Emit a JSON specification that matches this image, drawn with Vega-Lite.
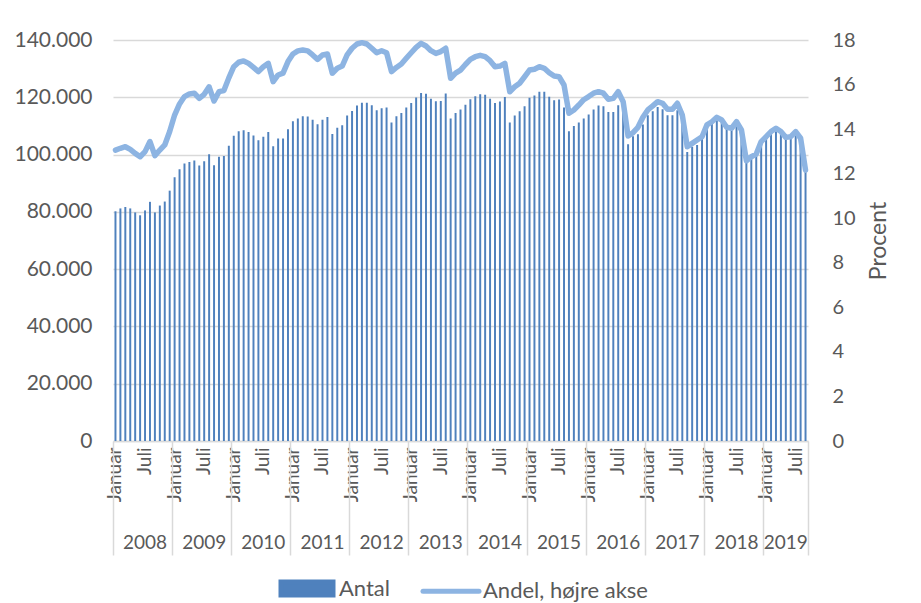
{
  "$schema": "https://vega.github.io/schema/vega-lite/v6.json",
  "width": 695,
  "height": 401,
  "autosize": {"type": "none"},
  "padding": {"left": 113, "top": 40, "right": 113, "bottom": 162},
  "background": "white",
  "config": {
    "view": {"stroke": null},
    "font": "Lato",
    "axis": {"labelFont": "Lato", "labelColor": "#595959", "labelFontSize": 19, "titleFont": "Lato", "titleColor": "#595959", "titleFontWeight": "normal"},
    "legend": {"labelFont": "Lato", "labelColor": "#595959", "labelFontSize": 22, "labelLimit": 400}
  },
  "data": {"values": [
    {"m":"2008-01","antal":80200,"andel":13.06},{"m":"2008-02","antal":81200,"andel":13.14},{"m":"2008-03","antal":81700,"andel":13.21},{"m":"2008-04","antal":81200,"andel":13.09},{"m":"2008-05","antal":79800,"andel":12.91},{"m":"2008-06","antal":78800,"andel":12.76},{"m":"2008-07","antal":80500,"andel":12.99},{"m":"2008-08","antal":83500,"andel":13.44},{"m":"2008-09","antal":79800,"andel":12.81},{"m":"2008-10","antal":82200,"andel":13.06},{"m":"2008-11","antal":83600,"andel":13.29},{"m":"2008-12","antal":87400,"andel":13.89},
    {"m":"2009-01","antal":92100,"andel":14.63},{"m":"2009-02","antal":94900,"andel":15.13},{"m":"2009-03","antal":96900,"andel":15.46},{"m":"2009-04","antal":97400,"andel":15.58},{"m":"2009-05","antal":97900,"andel":15.61},{"m":"2009-06","antal":96200,"andel":15.38},{"m":"2009-07","antal":97700,"andel":15.56},{"m":"2009-08","antal":100100,"andel":15.9},{"m":"2009-09","antal":96300,"andel":15.26},{"m":"2009-10","antal":99200,"andel":15.68},{"m":"2009-11","antal":99500,"andel":15.73},{"m":"2009-12","antal":103100,"andel":16.3},
    {"m":"2010-01","antal":106600,"andel":16.8},{"m":"2010-02","antal":108100,"andel":17.0},{"m":"2010-03","antal":108500,"andel":17.06},{"m":"2010-04","antal":107900,"andel":16.95},{"m":"2010-05","antal":106700,"andel":16.77},{"m":"2010-06","antal":105000,"andel":16.58},{"m":"2010-07","antal":106200,"andel":16.8},{"m":"2010-08","antal":107900,"andel":16.95},{"m":"2010-09","antal":102900,"andel":16.13},{"m":"2010-10","antal":105600,"andel":16.43},{"m":"2010-11","antal":105600,"andel":16.51},{"m":"2010-12","antal":108800,"andel":17.03},
    {"m":"2011-01","antal":111600,"andel":17.37},{"m":"2011-02","antal":112600,"andel":17.51},{"m":"2011-03","antal":113400,"andel":17.55},{"m":"2011-04","antal":113300,"andel":17.51},{"m":"2011-05","antal":112200,"andel":17.33},{"m":"2011-06","antal":110600,"andel":17.13},{"m":"2011-07","antal":112200,"andel":17.33},{"m":"2011-08","antal":113100,"andel":17.37},{"m":"2011-09","antal":107200,"andel":16.51},{"m":"2011-10","antal":109400,"andel":16.73},{"m":"2011-11","antal":110200,"andel":16.83},{"m":"2011-12","antal":113600,"andel":17.33},
    {"m":"2012-01","antal":115200,"andel":17.63},{"m":"2012-02","antal":117100,"andel":17.82},{"m":"2012-03","antal":118100,"andel":17.88},{"m":"2012-04","antal":118100,"andel":17.82},{"m":"2012-05","antal":117200,"andel":17.63},{"m":"2012-06","antal":115500,"andel":17.43},{"m":"2012-07","antal":116200,"andel":17.52},{"m":"2012-08","antal":116400,"andel":17.43},{"m":"2012-09","antal":111200,"andel":16.58},{"m":"2012-10","antal":113400,"andel":16.77},{"m":"2012-11","antal":114500,"andel":16.92},{"m":"2012-12","antal":116400,"andel":17.18},
    {"m":"2013-01","antal":118000,"andel":17.43},{"m":"2013-02","antal":119900,"andel":17.67},{"m":"2013-03","antal":121500,"andel":17.85},{"m":"2013-04","antal":121200,"andel":17.73},{"m":"2013-05","antal":119500,"andel":17.52},{"m":"2013-06","antal":118600,"andel":17.4},{"m":"2013-07","antal":118700,"andel":17.48},{"m":"2013-08","antal":121300,"andel":17.63},{"m":"2013-09","antal":112600,"andel":16.28},{"m":"2013-10","antal":114500,"andel":16.51},{"m":"2013-11","antal":115700,"andel":16.65},{"m":"2013-12","antal":117400,"andel":16.9},
    {"m":"2014-01","antal":119300,"andel":17.13},{"m":"2014-02","antal":120400,"andel":17.25},{"m":"2014-03","antal":121100,"andel":17.31},{"m":"2014-04","antal":120900,"andel":17.25},{"m":"2014-05","antal":119500,"andel":17.07},{"m":"2014-06","antal":118000,"andel":16.8},{"m":"2014-07","antal":118500,"andel":16.83},{"m":"2014-08","antal":120100,"andel":16.95},{"m":"2014-09","antal":111200,"andel":15.68},{"m":"2014-10","antal":113600,"andel":15.9},{"m":"2014-11","antal":115100,"andel":16.06},{"m":"2014-12","antal":116900,"andel":16.35},
    {"m":"2015-01","antal":119800,"andel":16.65},{"m":"2015-02","antal":120600,"andel":16.69},{"m":"2015-03","antal":121900,"andel":16.8},{"m":"2015-04","antal":121900,"andel":16.73},{"m":"2015-05","antal":120200,"andel":16.53},{"m":"2015-06","antal":119000,"andel":16.38},{"m":"2015-07","antal":119200,"andel":16.35},{"m":"2015-08","antal":116400,"andel":15.98},{"m":"2015-09","antal":108100,"andel":14.71},{"m":"2015-10","antal":110000,"andel":14.86},{"m":"2015-11","antal":111200,"andel":15.08},{"m":"2015-12","antal":112600,"andel":15.32},
    {"m":"2016-01","antal":114000,"andel":15.46},{"m":"2016-02","antal":115700,"andel":15.61},{"m":"2016-03","antal":117100,"andel":15.68},{"m":"2016-04","antal":116900,"andel":15.61},{"m":"2016-05","antal":114900,"andel":15.34},{"m":"2016-06","antal":114900,"andel":15.38},{"m":"2016-07","antal":117200,"andel":15.68},{"m":"2016-08","antal":115800,"andel":15.23},{"m":"2016-09","antal":103600,"andel":13.69},{"m":"2016-10","antal":106400,"andel":13.84},{"m":"2016-11","antal":107100,"andel":14.08},{"m":"2016-12","antal":110500,"andel":14.53},
    {"m":"2017-01","antal":113700,"andel":14.86},{"m":"2017-02","antal":115100,"andel":15.04},{"m":"2017-03","antal":116600,"andel":15.23},{"m":"2017-04","antal":115800,"andel":15.16},{"m":"2017-05","antal":113700,"andel":14.89},{"m":"2017-06","antal":113700,"andel":14.89},{"m":"2017-07","antal":115500,"andel":15.16},{"m":"2017-08","antal":115000,"andel":14.63},{"m":"2017-09","antal":100900,"andel":13.21},{"m":"2017-10","antal":102700,"andel":13.36},{"m":"2017-11","antal":103300,"andel":13.51},{"m":"2017-12","antal":105600,"andel":13.66},
    {"m":"2018-01","antal":109700,"andel":14.19},{"m":"2018-02","antal":110800,"andel":14.33},{"m":"2018-03","antal":112200,"andel":14.53},{"m":"2018-04","antal":111400,"andel":14.41},{"m":"2018-05","antal":109100,"andel":14.08},{"m":"2018-06","antal":108500,"andel":14.04},{"m":"2018-07","antal":110600,"andel":14.33},{"m":"2018-08","antal":108500,"andel":13.96},{"m":"2018-09","antal":97400,"andel":12.58},{"m":"2018-10","antal":98600,"andel":12.76},{"m":"2018-11","antal":99800,"andel":12.88},{"m":"2018-12","antal":103800,"andel":13.44},
    {"m":"2019-01","antal":106200,"andel":13.66},{"m":"2019-02","antal":107900,"andel":13.89},{"m":"2019-03","antal":108700,"andel":14.04},{"m":"2019-04","antal":107300,"andel":13.89},{"m":"2019-05","antal":105600,"andel":13.63},{"m":"2019-06","antal":105600,"andel":13.66},{"m":"2019-07","antal":107300,"andel":13.89},{"m":"2019-08","antal":105000,"andel":13.59},{"m":"2019-09","antal":94500,"andel":12.16}
  ]},
  "resolve": {"scale": {"y": "independent"}, "axis": {"x": "independent", "y": "independent"}},
  "layer": [
    {
      "mark": {"type": "bar", "width": {"band": 0.4}},
      "encoding": {
        "x": {"field": "m", "type": "ordinal", "sort": null,
          "scale": {"paddingInner": 0, "paddingOuter": 0},
          "axis": {"orient": "bottom", "title": null, "ticks": false, "domain": true, "domainColor": "#d9d9d9", "domainWidth": 1.5, "grid": false,
            "labelAngle": 270, "labelPadding": 6, "labelOverlap": false,
            "labelExpr": "substring(datum.value,5,7)=='01' ? 'Januar' : (substring(datum.value,5,7)=='07' ? 'Juli' : '')"}},
        "y": {"field": "antal", "type": "quantitative", "scale": {"domain": [0, 140000]},
          "axis": {"orient": "left", "title": null, "values": [0, 20000, 40000, 60000, 80000, 100000, 120000, 140000],
            "labelExpr": "replace(format(datum.value, ','), ',', '.')", "labelFontSize": 21,
            "grid": true, "gridColor": "#d9d9d9", "gridWidth": 1.5, "ticks": false, "domain": false, "labelPadding": 21}},
        "color": {"datum": "Antal", "type": "nominal",
          "scale": {"domain": ["Antal", "Andel, højre akse"], "range": ["#4f81bd", "#8db4e2"]},
          "legend": {"title": null, "orient": "none", "legendX": 181.5, "legendY": 536, "direction": "horizontal", "columns": 2,
            "symbolSize": 400, "symbolStrokeWidth": 5, "labelOffset": 19.5, "columnPadding": 22, "padding": 0, "labelFontSize": 22, "labelLimit": 400,
            "encode": {"symbols": {"update": {
              "size": {"value": 400},
              "shape": {"signal": "datum.value === 'Antal' ? 'M-2.6,-0.65L2.6,-0.65L2.6,0.65L-2.6,0.65Z' : 'M-2.8,0L2.8,0'"},
              "fill": {"signal": "datum.value === 'Antal' ? '#4f81bd' : 'transparent'"},
              "stroke": {"signal": "datum.value === 'Antal' ? 'transparent' : '#8db4e2'"},
              "strokeWidth": {"value": 5},
              "strokeCap": {"value": "round"},
              "opacity": {"value": 1}
            }}}}}
      }
    },
    {
      "mark": {"type": "line", "strokeWidth": 5.5, "strokeJoin": "round", "strokeCap": "round"},
      "encoding": {
        "x": {"field": "m", "type": "ordinal", "sort": null,
          "axis": {"orient": "bottom", "title": null, "bandPosition": 0, "domain": false, "grid": false,
            "ticks": true, "tickSize": 114, "tickColor": "#d9d9d9", "tickWidth": 1.5,
            "tickOpacity": {"condition": {"test": "substring(datum.value,5,7)=='01'", "value": 1}, "value": 0},
            "labelAngle": 0, "labelPadding": -22, "labelOverlap": false, "labelFontSize": 19,
            "labelExpr": "((substring(datum.value,5,7)=='07' && substring(datum.value,0,4)!='2019') || datum.value=='2019-05') ? substring(datum.value,0,4) : ''"}},
        "y": {"field": "andel", "type": "quantitative", "scale": {"domain": [0, 18]},
          "axis": {"orient": "right", "title": "Procent", "titleAngle": 270, "titleFontSize": 23, "titlePadding": 35, "labelFontSize": 20,
            "values": [0, 2, 4, 6, 8, 10, 12, 14, 16, 18], "grid": false, "ticks": false, "domain": false, "labelPadding": 24}},
        "color": {"datum": "Andel, højre akse", "type": "nominal"}
      }
    },
    {
      "mark": {"type": "bar", "opacity": 0},
      "encoding": {
        "x": {"field": "m", "type": "ordinal", "sort": null,
          "axis": {"orient": "bottom", "title": null, "bandPosition": 1, "domain": false, "grid": false, "labels": false,
            "ticks": true, "tickSize": 114, "tickColor": "#d9d9d9", "tickWidth": 1.5,
            "tickOpacity": {"condition": {"test": "datum.value=='2019-09'", "value": 1}, "value": 0}}},
        "y": {"field": "antal", "type": "quantitative", "axis": null}
      }
    }
  ]
}
